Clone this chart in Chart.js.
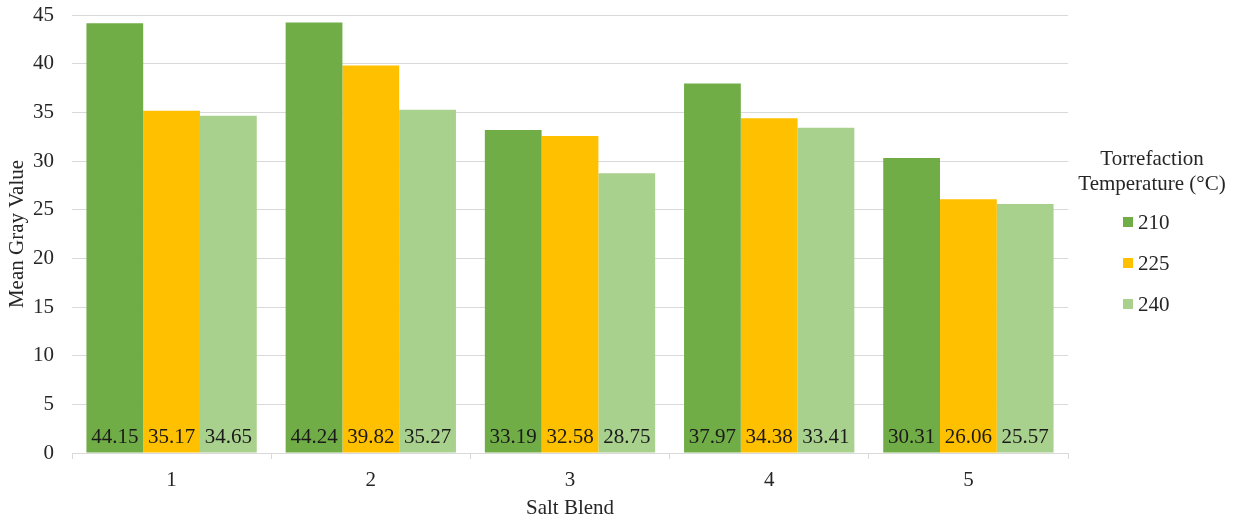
<!DOCTYPE html>
<html>
<head>
<meta charset="utf-8">
<script src="https://cdn.jsdelivr.net/npm/chart.js@4.4.0/dist/chart.umd.min.js"></script>
<style>
  html, body { margin: 0; padding: 0; background: #fff; }
  #wrap { width: 1239px; height: 521px; position: relative; }
</style>
</head>
<body>
<div id="wrap"><canvas id="grafico"></canvas></div>
<script>
// categorias y series
const saltBlend = ['1', '2', '3', '4', '5']
const temp210 = [44.15, 44.24, 33.19, 37.97, 30.31]
const temp225 = [35.17, 39.82, 32.58, 34.38, 26.06]
const temp240 = [34.65, 35.27, 28.75, 33.41, 25.57]
const seriesNames = ['210', '225', '240']
const legendTitle = ['Torrefaction', 'Temperature (°C)']

const fuente = '"Liberation Serif", "Times New Roman", serif'
const colorTexto = '#262626'
const tam = 21

// etiquetas de valor dentro de la barra, abajo
const etiquetasBarra = {
  id: 'etiquetasBarra',
  afterDatasetsDraw(chart) {
    const ctx = chart.ctx
    const y0 = chart.scales.y.getPixelForValue(0)
    ctx.save()
    ctx.font = tam + 'px ' + fuente
    ctx.fillStyle = '#1a1a1a'
    ctx.textAlign = 'center'
    ctx.textBaseline = 'middle'
    chart.data.datasets.forEach((ds, i) => {
      chart.getDatasetMeta(i).data.forEach((bar, j) => {
        ctx.fillText(ds.data[j].toFixed(2), bar.x, y0 - 16)
      })
    })
    ctx.restore()
  }
}

// leyenda a la derecha con titulo de dos lineas
const leyenda = {
  id: 'leyenda',
  afterDraw(chart) {
    const ctx = chart.ctx
    const cx = 1152
    ctx.save()
    ctx.font = tam + 'px ' + fuente
    ctx.fillStyle = colorTexto
    ctx.textAlign = 'center'
    ctx.textBaseline = 'middle'
    ctx.fillText(legendTitle[0], cx, 159)
    ctx.fillText(legendTitle[1], cx, 184)
    ctx.textAlign = 'left'
    chart.data.datasets.forEach((ds, i) => {
      const y = 222 + i * 41
      ctx.fillStyle = ds.backgroundColor
      ctx.fillRect(1123, y - 5, 10, 10)
      ctx.fillStyle = colorTexto
      ctx.fillText(ds.label, 1138, y + 1)
    })
    ctx.restore()
  }
}

const canvas = document.getElementById('grafico')
const grafico = new Chart(canvas, {
  type: 'bar',
  data: {
    labels: saltBlend,
    datasets: [
      { label: seriesNames[0], data: temp210, backgroundColor: '#70AD47' },
      { label: seriesNames[1], data: temp225, backgroundColor: '#FFC000' },
      { label: seriesNames[2], data: temp240, backgroundColor: '#A9D18E' }
    ]
  },
  options: {
    responsive: true,
    maintainAspectRatio: false,
    animation: false,
    categoryPercentage: 0.855,
    barPercentage: 1.0,
    layout: { padding: { top: 15, right: 171, left: 0, bottom: 0 } },
    plugins: {
      legend: { display: false },
      tooltip: { enabled: false }
    },
    scales: {
      x: {
        grid: { drawOnChartArea: false, drawTicks: true, tickLength: 6, color: '#D9D9D9', offset: true },
        border: { color: '#D9D9D9' },
        ticks: { color: colorTexto, font: { family: fuente, size: tam }, padding: 9 },
        title: { display: true, text: 'Salt Blend', color: colorTexto, font: { family: fuente, size: tam }, padding: { top: 0, bottom: 0 } },
        afterFit(scale) {
          scale.height = 68
          scale.paddingLeft = 0
          scale.paddingRight = 0
        }
      },
      y: {
        min: 0,
        max: 45,
        ticks: { stepSize: 5, color: colorTexto, font: { family: fuente, size: tam }, padding: 18 },
        grid: { color: '#D9D9D9', drawTicks: false },
        border: { display: false },
        title: { display: true, text: 'Mean Gray Value', color: colorTexto, font: { family: fuente, size: tam }, padding: { top: 5, bottom: 0 } },
        afterFit(scale) {
          scale.width = 72
          scale.paddingTop = 0
          scale.paddingBottom = 0
        }
      }
    }
  },
  plugins: [etiquetasBarra, leyenda]
})
</script>
</body>
</html>
